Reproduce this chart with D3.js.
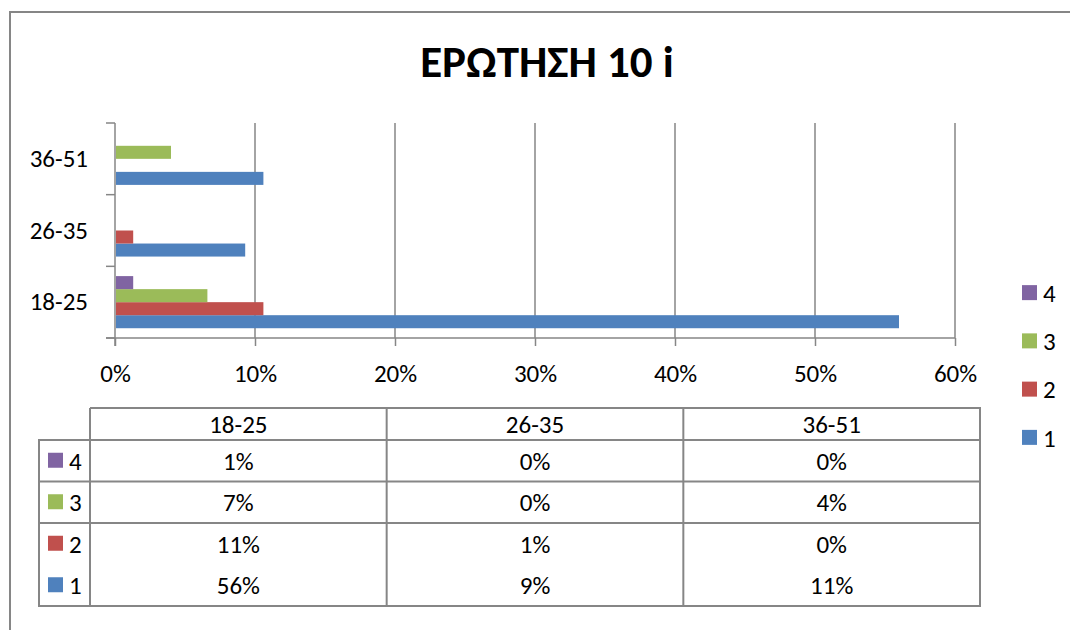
<html>
<head>
<meta charset="utf-8">
<script src="https://d3js.org/d3.v7.min.js"></script>
<style>
body { margin: 0; background: #fff; }
text { font-family: Carlito, Lato, "Open Sans", sans-serif; fill: #000; }
</style>
</head>
<body>
<svg id="main_vis" width="1070" height="630"></svg>
<script>
// data
var categories = ["18-25", "26-35", "36-51"];
var seriesNames = ["1", "2", "3", "4"];
var series1 = [0.560, 0.093, 0.106];
var series2 = [0.106, 0.013, 0.000];
var series3 = [0.066, 0.000, 0.040];
var series4 = [0.013, 0.000, 0.000];
var seriesColors = ["#4F81BD", "#C0504D", "#9BBB59", "#8064A2"];
var xTicks = [0, 0.1, 0.2, 0.3, 0.4, 0.5, 0.6];
var title = "ΕΡΩΤΗΣΗ 10 i";

var allSeries = [series1, series2, series3, series4];
var pct = d3.format(".0%");
var grey = "#868686";
var fs = "25px";

var svg = d3.select("#main_vis");

// chart frame
svg.append("rect")
  .attr("x", 10).attr("y", 12)
  .attr("width", 1080).attr("height", 640)
  .attr("fill", "none")
  .attr("stroke", grey)
  .attr("stroke-width", 2);

svg.append("text")
  .attr("x", 547).attr("y", 77)
  .attr("text-anchor", "middle")
  .attr("font-size", "45px")
  .attr("font-weight", "bold")
  .text(title);

// scales
var x = d3.scaleLinear().domain([0, 0.6]).range([115, 955]);
var y = d3.scaleBand().domain(categories).range([338, 123]);
var ySub = d3.scaleBand().domain(seriesNames).range([y.bandwidth(), 0]).paddingOuter(0.75);

// gridlines
svg.append("g").selectAll("line")
  .data(xTicks.slice(1))
  .enter().append("line")
  .attr("x1", function(d) { return x(d); })
  .attr("x2", function(d) { return x(d); })
  .attr("y1", 123).attr("y2", 338)
  .attr("stroke", grey)
  .attr("stroke-width", 1.5);

// x axis
var xAxis = svg.append("g")
  .attr("transform", "translate(0,338)")
  .call(d3.axisBottom(x).tickValues(xTicks).tickFormat(pct).tickSizeInner(8).tickSizeOuter(0).tickPadding(18));
xAxis.select(".domain").attr("d", "M106,0H955").attr("stroke", grey).attr("stroke-width", 1.5);
xAxis.selectAll(".tick line").attr("stroke", grey).attr("stroke-width", 1.5);
xAxis.selectAll("text").attr("font-size", fs).attr("font-family", null);

// y axis
var yAxis = svg.append("g")
  .attr("transform", "translate(115,0)")
  .call(d3.axisLeft(y).tickSize(0).tickPadding(27));
yAxis.select(".domain").attr("d", "M0,123V346").attr("stroke", grey).attr("stroke-width", 1.5);
yAxis.selectAll("text").attr("font-size", fs).attr("font-family", null);
var yEdges = categories.map(function(c) { return y(c); }).concat([y(categories[0]) + y.bandwidth()]);
yAxis.selectAll(".edge")
  .data(yEdges)
  .enter().append("line")
  .attr("x1", -9).attr("x2", 0)
  .attr("y1", function(d) { return d; })
  .attr("y2", function(d) { return d; })
  .attr("stroke", grey)
  .attr("stroke-width", 1.5);

// bars
allSeries.forEach(function(vals, si) {
  svg.append("g").selectAll("rect")
    .data(vals)
    .enter().append("rect")
    .attr("x", x(0) + 1)
    .attr("y", function(d, i) { return y(categories[i]) + ySub(seriesNames[si]); })
    .attr("width", function(d) { return Math.max(0, x(d) - x(0) - 1); })
    .attr("height", ySub.bandwidth())
    .attr("fill", seriesColors[si]);
});

// legend on the right
var legY = d3.scaleBand().domain(seriesNames.slice().reverse()).range([269, 462]);
var leg = svg.append("g").selectAll("g")
  .data(seriesNames)
  .enter().append("g")
  .attr("transform", function(d) { return "translate(1022," + (legY(d) + legY.bandwidth() / 2) + ")"; });
leg.append("rect")
  .attr("x", 0).attr("y", -8)
  .attr("width", 15).attr("height", 15)
  .attr("fill", function(d, i) { return seriesColors[i]; });
leg.append("text")
  .attr("x", 21).attr("y", 0)
  .attr("dy", "0.35em")
  .attr("font-size", fs)
  .text(function(d) { return d; });

// data table
var tCol = d3.scaleBand().domain(categories).range([90, 980]);
var tRow = d3.scaleBand().domain(seriesNames.slice().reverse()).range([440, 606]);
var table = svg.append("g");
var lineStyle = function(sel) { return sel.attr("stroke", grey).attr("stroke-width", 2).attr("fill", "none"); };

table.selectAll(".hdr")
  .data(categories)
  .enter().append("text")
  .attr("x", function(d) { return tCol(d) + tCol.bandwidth() / 2; })
  .attr("y", 424)
  .attr("dy", "0.35em")
  .attr("text-anchor", "middle")
  .attr("font-size", fs)
  .text(function(d) { return d; });

// grid of the table
table.append("path").call(lineStyle)
  .attr("d", "M90,408H980V606H39V440H90V408");
seriesNames.slice(1).forEach(function(s) {
  table.append("line").call(lineStyle)
    .attr("x1", 39).attr("x2", 980)
    .attr("y1", tRow(s)).attr("y2", tRow(s));
});
table.append("line").call(lineStyle).attr("x1", 39).attr("x2", 980).attr("y1", 440).attr("y2", 440);
categories.forEach(function(c) {
  table.append("line").call(lineStyle)
    .attr("x1", tCol(c)).attr("x2", tCol(c))
    .attr("y1", 408).attr("y2", 606);
});

var rows = table.selectAll(".row")
  .data(seriesNames)
  .enter().append("g")
  .attr("transform", function(d) { return "translate(0," + (tRow(d) + tRow.bandwidth() / 2) + ")"; });
rows.append("rect")
  .attr("x", 48).attr("y", -8)
  .attr("width", 15).attr("height", 15)
  .attr("fill", function(d, i) { return seriesColors[i]; });
rows.append("text")
  .attr("x", 69).attr("dy", "0.35em")
  .attr("font-size", fs)
  .text(function(d) { return d; });
rows.each(function(s, si) {
  d3.select(this).selectAll(".val")
    .data(allSeries[si])
    .enter().append("text")
    .attr("x", function(d, i) { return tCol(categories[i]) + tCol.bandwidth() / 2; })
    .attr("dy", "0.35em")
    .attr("text-anchor", "middle")
    .attr("font-size", fs)
    .text(function(d) { return pct(d); });
});
</script>
</body>
</html>
